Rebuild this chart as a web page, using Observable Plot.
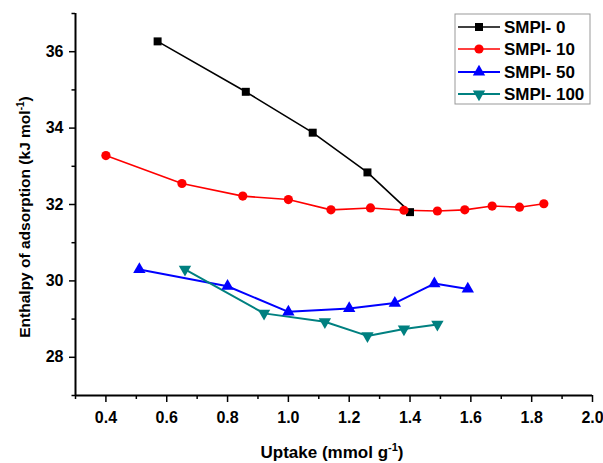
<!DOCTYPE html>
<html><head><meta charset="utf-8">
<script src="https://cdn.jsdelivr.net/npm/d3@7"></script>
<script src="https://cdn.jsdelivr.net/npm/@observablehq/plot@0.6"></script>
<style>body{margin:0;background:#fff} svg{display:block}</style>
</head><body><div id="chart"></div>
<script>
const seriesNames = ["SMPI- 0", "SMPI- 10", "SMPI- 50", "SMPI- 100"];
const seriesColors = ["#000000", "#ff0000", "#0000ff", "#008080"];

const uptake0 = [0.57, 0.86, 1.08, 1.26, 1.40];
const enthalpy0 = [36.27, 34.95, 33.88, 32.84, 31.80];

const uptake10 = [0.40, 0.65, 0.85, 1.00, 1.14, 1.27, 1.38, 1.49, 1.58, 1.67, 1.76, 1.84];
const enthalpy10 = [33.28, 32.55, 32.22, 32.13, 31.86, 31.91, 31.85, 31.83, 31.86, 31.96, 31.93, 32.02];

const uptake50 = [0.51, 0.80, 1.00, 1.20, 1.35, 1.48, 1.59];
const enthalpy50 = [30.30, 29.86, 29.19, 29.28, 29.42, 29.93, 29.79];

const uptake100 = [0.66, 0.92, 1.12, 1.26, 1.38, 1.49];
const enthalpy100 = [30.30, 29.15, 28.93, 28.56, 28.74, 28.86];

const xMajorTicks = [0.4, 0.6, 0.8, 1.0, 1.2, 1.4, 1.6, 1.8, 2.0];
const xMinorTicks = [0.3, 0.5, 0.7, 0.9, 1.1, 1.3, 1.5, 1.7, 1.9];
const yMajorTicks = [28, 30, 32, 34, 36];
const yMinorTicks = [27, 29, 31, 33, 35, 37];

const xs = [uptake0, uptake10, uptake50, uptake100];
const ys = [enthalpy0, enthalpy10, enthalpy50, enthalpy100];
const rows = [];
seriesNames.forEach((s, i) => xs[i].forEach((x, j) => rows.push({series: s, x, y: ys[i][j]})));

const sqrt3 = Math.sqrt(3);
const triangleDown = {
  draw(context, size) {
    const y = -Math.sqrt(size / (sqrt3 * 3));
    context.moveTo(0, -y * 2);
    context.lineTo(-sqrt3 * y, y);
    context.lineTo(sqrt3 * y, y);
    context.closePath();
  }
};
const symbols = [d3.symbolSquare, d3.symbolCircle, d3.symbolTriangle, triangleDown];
const widths = [1.6, 1.6, 2, 2];
const radii = [4.5, 4.6, 4.6, 4.6];

const marks = [];
seriesNames.forEach((s, i) => {
  const d = rows.filter(r => r.series === s);
  marks.push(Plot.line(d, {x: "x", y: "y", stroke: seriesColors[i], strokeWidth: widths[i]}));
});
seriesNames.forEach((s, i) => {
  const d = rows.filter(r => r.series === s);
  marks.push(Plot.dot(d, {x: "x", y: "y", fill: seriesColors[i], stroke: "none", symbol: symbols[i], r: radii[i]}));
});

const font = "'Liberation Sans', Arial, sans-serif";
const chart = Plot.plot({
  width: 603, height: 463,
  marginLeft: 75, marginRight: 11, marginTop: 13, marginBottom: 68,
  style: {fontFamily: font, fontSize: "16px", fontWeight: "bold", color: "#000", background: "#fff"},
  x: {domain: [0.3, 2.0]},
  y: {domain: [27, 37]},
  marks: [
    Plot.axisX({ticks: xMajorTicks, tickSize: 7, tickPadding: 9, strokeWidth: 1.5, fontSize: 16, fontWeight: "bold", tickFormat: d3.format(".1f"), label: null}),
    Plot.axisX({ticks: xMinorTicks, tickSize: 4, strokeWidth: 1.5, text: null, label: null}),
    Plot.axisY({ticks: yMajorTicks, tickSize: 6, tickPadding: 6, strokeWidth: 1.5, fontSize: 16, fontWeight: "bold", label: null}),
    Plot.axisY({ticks: yMinorTicks, tickSize: 3.5, strokeWidth: 1.5, text: null, label: null}),
    Plot.ruleX([0.3], {strokeWidth: 2}),
    Plot.ruleY([27], {strokeWidth: 2}),
    ...marks
  ]
});

const svg = d3.select(chart);
// axis titles
const xt = svg.append("text").attr("x", 332).attr("y", 458).attr("text-anchor", "middle")
  .attr("font-family", font).attr("font-size", 17).attr("font-weight", "bold").attr("fill", "#000");
xt.append("tspan").text("Uptake (mmol g");
xt.append("tspan").attr("dy", -7).attr("font-size", 11).text("-1");
xt.append("tspan").attr("dy", 7).text(")");

const yt = svg.append("text").attr("transform", "translate(25,217) rotate(-90)").attr("text-anchor", "middle")
  .attr("dy", "0.35em").attr("font-family", font).attr("font-size", 15.5).attr("font-weight", "bold").attr("fill", "#000");
yt.append("tspan").text("Enthalpy of adsorption (kJ mol");
yt.append("tspan").attr("dy", -6).attr("font-size", 10).text("-1");
yt.append("tspan").attr("dy", 6).text(")");

// legend
const lg = svg.append("g");
lg.append("rect").attr("x", 455).attr("y", 14).attr("width", 135).attr("height", 90)
  .attr("fill", "#fff").attr("stroke", "#999").attr("stroke-width", 1);
const legendY = [27, 49, 72, 94];
seriesNames.forEach((s, i) => {
  const yy = legendY[i];
  lg.append("line").attr("x1", 458).attr("x2", 500).attr("y1", yy).attr("y2", yy)
    .attr("stroke", seriesColors[i]).attr("stroke-width", widths[i]);
  lg.append("path").attr("transform", `translate(479,${yy})`)
    .attr("d", d3.symbol(symbols[i], Math.PI * radii[i] * radii[i])())
    .attr("fill", seriesColors[i]);
  lg.append("text").attr("x", 504).attr("y", yy).attr("dy", "0.36em").attr("text-anchor", "start")
    .attr("font-family", font).attr("font-size", 17).attr("font-weight", "bold").attr("fill", "#000").text(s);
});

document.getElementById("chart").appendChild(chart);
</script>
</body></html>
